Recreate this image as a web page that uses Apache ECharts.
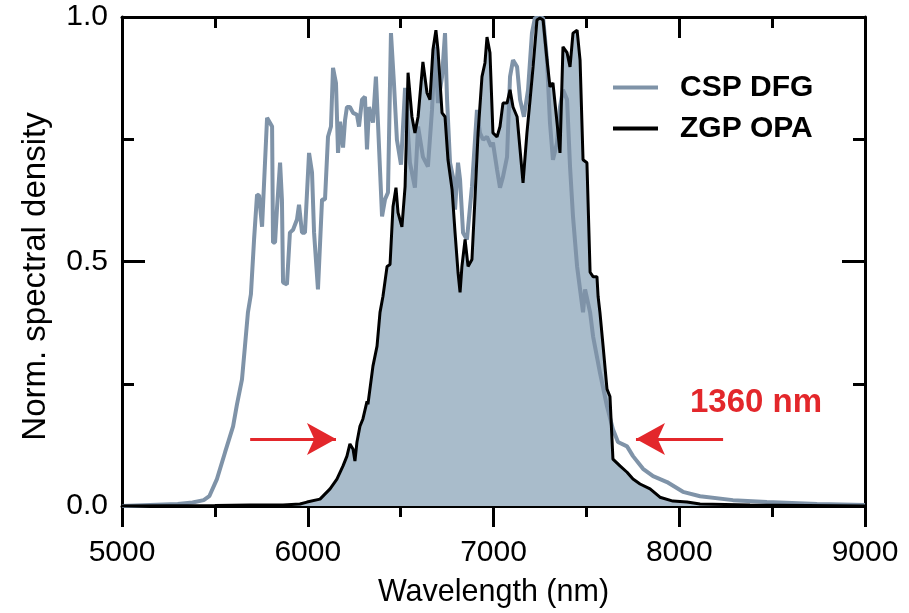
<!DOCTYPE html>
<html>
<head>
<meta charset="utf-8">
<script src="https://cdn.jsdelivr.net/npm/echarts@6/dist/echarts.min.js"></script>
<style>
html,body{margin:0;padding:0;background:#fff;}
#chart{width:909px;height:613px;}
</style>
</head>
<body>
<div id="chart"></div>
<script>
// ---- Data (wavelength in nm, normalized spectral density) ----
var cspWl = [5000,5150,5300,5380,5440,5470,5511,5555,5598,5619,5646,5662,5678,5694,5711,5727,5738,5754,5764,5781,5791,5808,5813,5824,5834,5851,5861,5867,5888,5904,5921,5942,5953,5969,5985,6007,6023,6034,6055,6077,6093,6109,6125,6136,6152,6163,6174,6190,6201,6211,6227,6244,6265,6276,6292,6308,6319,6330,6351,6367,6378,6400,6416,6432,6448,6464,6480,6502,6524,6550,6577,6594,6620,6647,6669,6685,6701,6723,6739,6750,6766,6782,6793,6809,6820,6836,6857,6884,6911,6927,6944,6965,6987,6997,7019,7035,7051,7073,7089,7105,7127,7143,7164,7186,7207,7223,7250,7267,7288,7304,7320,7342,7358,7374,7396,7412,7428,7450,7466,7482,7493,7520,7536,7573,7611,7643,7670,7719,7751,7805,7859,7934,8020,8112,8289,8472,8742,9000];
var cspVal = [0.000,0.002,0.004,0.007,0.012,0.020,0.055,0.110,0.163,0.208,0.259,0.327,0.396,0.433,0.545,0.637,0.635,0.571,0.569,0.794,0.794,0.776,0.539,0.539,0.606,0.702,0.627,0.457,0.453,0.559,0.565,0.586,0.616,0.559,0.559,0.722,0.682,0.559,0.443,0.627,0.627,0.755,0.776,0.896,0.865,0.722,0.786,0.733,0.790,0.816,0.816,0.804,0.800,0.776,0.831,0.837,0.729,0.816,0.784,0.878,0.784,0.592,0.627,0.641,0.967,0.865,0.749,0.698,0.855,0.702,0.651,0.776,0.714,0.694,0.810,0.939,0.824,0.878,0.967,0.831,0.702,0.673,0.606,0.702,0.667,0.559,0.545,0.653,0.810,0.763,0.749,0.755,0.735,0.743,0.688,0.651,0.673,0.714,0.878,0.912,0.898,0.831,0.796,0.851,0.967,0.998,0.998,0.998,0.912,0.784,0.708,0.743,0.816,0.851,0.831,0.694,0.592,0.490,0.443,0.396,0.443,0.396,0.347,0.273,0.204,0.157,0.131,0.122,0.102,0.076,0.061,0.049,0.029,0.020,0.012,0.008,0.004,0.002];

var zgpWl = [5000,5500,5689,5867,5958,5996,6066,6120,6157,6190,6211,6227,6244,6254,6265,6281,6297,6319,6324,6351,6373,6389,6405,6427,6443,6459,6475,6486,6507,6524,6540,6561,6577,6594,6620,6642,6658,6674,6690,6701,6723,6739,6755,6777,6793,6809,6820,6830,6847,6863,6884,6900,6917,6938,6954,6965,6981,6997,7019,7035,7051,7073,7089,7105,7127,7143,7159,7180,7197,7213,7234,7250,7267,7288,7304,7320,7342,7358,7374,7396,7412,7428,7450,7466,7482,7503,7520,7536,7557,7563,7573,7590,7611,7627,7643,7681,7719,7751,7789,7843,7896,7966,8042,8112,8381,9000];
var zgpVal = [0.000,0.001,0.002,0.002,0.004,0.008,0.014,0.035,0.055,0.082,0.102,0.127,0.116,0.092,0.131,0.163,0.178,0.214,0.208,0.286,0.327,0.396,0.429,0.490,0.494,0.612,0.651,0.600,0.571,0.653,0.886,0.796,0.763,0.796,0.908,0.845,0.831,0.933,0.973,0.933,0.804,0.796,0.708,0.647,0.559,0.478,0.437,0.490,0.545,0.490,0.504,0.627,0.763,0.878,0.906,0.959,0.927,0.763,0.755,0.776,0.824,0.824,0.851,0.816,0.796,0.729,0.661,0.763,0.831,0.898,0.994,0.998,0.994,0.912,0.857,0.865,0.784,0.722,0.939,0.927,0.898,0.967,0.973,0.912,0.708,0.702,0.478,0.469,0.469,0.429,0.396,0.327,0.239,0.224,0.096,0.082,0.069,0.055,0.045,0.035,0.018,0.010,0.008,0.004,0.002,0.000];

var seriesNames = ['CSP DFG', 'ZGP OPA'];
var xTicks = [5000, 9000, 1000];   // min, max, step
var yTicks = [0, 1, 0.5];          // min, max, step
var annotationText = '1360 nm';
var arrowLevel = 0.137;
var leftArrow = [5690, 6152];      // start, tip (data units)
var rightArrow = [8236, 7767];

function pairs(xs, ys) { return xs.map(function (x, i) { return [x, ys[i]]; }); }

var FONT = 'Liberation Sans, Arial, Helvetica, sans-serif';
var axisCommon = {
  axisLine: { show: true, onZero: false, lineStyle: { color: '#000', width: 3 } },
  splitLine: { show: false },
  minorSplitLine: { show: false }
};

var chart = echarts.init(document.getElementById('chart'), null, { renderer: 'canvas' });
chart.setOption({
  animation: false,
  backgroundColor: '#fff',
  grid: { left: 122, right: 44, top: 17, bottom: 106 },
  legend: {
    data: seriesNames,
    orient: 'vertical',
    left: 608, top: 67,
    icon: 'rect', itemWidth: 45, itemHeight: 4, itemGap: 10,
    selectedMode: false,
    textStyle: { fontSize: 30, fontWeight: 'bold', color: '#000', fontFamily: FONT, lineHeight: 31, padding: [0, 0, 0, 17] }
  },
  xAxis: [
    Object.assign({}, axisCommon, {
      type: 'value', position: 'bottom', min: xTicks[0], max: xTicks[1], interval: xTicks[2],
      axisTick: { show: true, inside: false, length: 21, lineStyle: { color: '#000', width: 3 } },
      minorTick: { show: true, splitNumber: 2, length: 11, lineStyle: { color: '#000', width: 3 } },
      axisLabel: { fontSize: 30, color: '#000', fontFamily: FONT, margin: 32, formatter: function (v) { return String(v); } },
      name: 'Wavelength (nm)', nameLocation: 'middle', nameGap: 71,
      nameTextStyle: { fontSize: 30.5, color: '#000', fontFamily: FONT }
    }),
    Object.assign({}, axisCommon, {
      type: 'value', position: 'top', min: xTicks[0], max: xTicks[1], interval: xTicks[2],
      axisTick: { show: true, inside: true, length: 21, lineStyle: { color: '#000', width: 3 } },
      minorTick: { show: true, splitNumber: 2, length: 11, lineStyle: { color: '#000', width: 3 } },
      axisLabel: { show: false }
    })
  ],
  yAxis: [
    Object.assign({}, axisCommon, {
      type: 'value', position: 'left', min: yTicks[0], max: yTicks[1], interval: yTicks[2],
      axisTick: { show: true, inside: true, length: 23, lineStyle: { color: '#000', width: 3 } },
      minorTick: { show: true, splitNumber: 2, length: 12, lineStyle: { color: '#000', width: 3 } },
      axisLabel: { fontSize: 30, color: '#000', fontFamily: FONT, margin: 14, formatter: function (v) { return v.toFixed(1); } },
      name: 'Norm. spectral density', nameLocation: 'middle', nameGap: 70, nameRotate: 90,
      nameTextStyle: { fontSize: 33, color: '#000', fontFamily: FONT, padding: [0, 30, 0, 0] }
    }),
    Object.assign({}, axisCommon, {
      type: 'value', position: 'right', min: yTicks[0], max: yTicks[1], interval: yTicks[2],
      axisTick: { show: true, inside: true, length: 23, lineStyle: { color: '#000', width: 3 } },
      minorTick: { show: true, splitNumber: 2, length: 12, lineStyle: { color: '#000', width: 3 } },
      axisLabel: { show: false }
    })
  ],
  series: [
    {
      name: 'ZGP OPA fill', type: 'line', z: 1, xAxisIndex: 0, yAxisIndex: 0,
      data: pairs(zgpWl, zgpVal), showSymbol: false, silent: true,
      lineStyle: { width: 0, color: '#a9bccb' },
      itemStyle: { color: '#a9bccb' },
      areaStyle: { color: '#a9bccb', opacity: 1 }
    },
    {
      name: seriesNames[0], type: 'line', z: 2, xAxisIndex: 0, yAxisIndex: 0,
      data: pairs(cspWl, cspVal), showSymbol: false, silent: true,
      lineStyle: { width: 4, color: '#7f93a8' },
      itemStyle: { color: '#7f93a8' }
    },
    {
      name: seriesNames[1], type: 'line', z: 3, xAxisIndex: 0, yAxisIndex: 0,
      data: pairs(zgpWl, zgpVal), showSymbol: false, silent: true,
      lineStyle: { width: 3, color: '#000' },
      itemStyle: { color: '#000' },
      markLine: {
        silent: true, animation: false,
        symbol: ['none', 'arrow'], symbolSize: [24, 29],
        label: { show: false },
        lineStyle: { color: '#e3272b', width: 3, type: 'solid' },
        emphasis: { disabled: true },
        data: [
          [{ coord: [leftArrow[0], arrowLevel] }, { coord: [leftArrow[1], arrowLevel] }],
          [{ coord: [rightArrow[0], arrowLevel] }, { coord: [rightArrow[1], arrowLevel] }]
        ]
      }
    }
  ],
  graphic: [
    {
      type: 'text', x: 756, y: 403, z: 10,
      style: { text: annotationText, fill: '#e3272b', font: 'bold 33px ' + FONT,
               align: 'center', verticalAlign: 'middle', textAlign: 'center', textVerticalAlign: 'middle' }
    }
  ]
});
</script>
</body>
</html>
